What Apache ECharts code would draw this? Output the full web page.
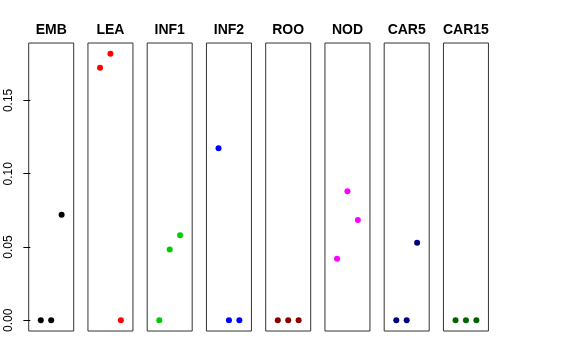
<!DOCTYPE html>
<html><head><meta charset="utf-8">
<script src="https://cdn.jsdelivr.net/npm/echarts@6/dist/echarts.min.js"></script>
<style>html,body{margin:0;padding:0;background:#fff}#c{width:576px;height:360px}</style>
</head><body><div id="c"></div>
<script>
const panels = ['EMB','LEA','INF1','INF2','ROO','NOD','CAR5','CAR15'];
const xPos = [1, 2, 3];
const EMB = [0, 0, 0.072];
const LEA = [0.1723, 0.1819, 0];
const INF1 = [0, 0.0484, 0.058];
const INF2 = [0.1173, 0, 0];
const ROO = [0, 0, 0];
const NOD = [0.042, 0.088, 0.0684];
const CAR5 = [0, 0, 0.0529];
const CAR15 = [0, 0, 0];
const yTicks = [0, 0.05, 0.10, 0.15];
const colors = ['#000000','#FF0000','#00CD00','#0000FF','#8B0000','#FF00FF','#000080','#006400'];

(function () {
const values = [EMB, LEA, INF1, INF2, ROO, NOD, CAR5, CAR15];
const yMax = Math.max(...values.flat());
const yMin = 0;
const pad = (yMax - yMin) * 0.04;

const left0 = 28.7, step = 59.25, w = 45, gTop = 43, h = 288;
const grids = [], xAxes = [], yAxes = [], series = [], graphics = [];
panels.forEach((name, i) => {
  grids.push({left: left0 + step*i, top: gTop, width: w, height: h, show: true,
    borderColor: '#333', borderWidth: 1, backgroundColor: 'transparent'});
  xAxes.push({gridIndex: i, type: 'value', min: -0.16, max: 4.16, show: false});
  yAxes.push({gridIndex: i, type: 'value', min: yMin - pad, max: yMax + pad,
    show: i === 0,
    axisLine: {show: false},
    splitLine: {show: false},
    axisTick: {show: true, length: 7, inside: false, customValues: yTicks, lineStyle: {color: '#000'}},
    axisLabel: {show: true, customValues: yTicks, rotate: 90, margin: 14,
      formatter: v => v.toFixed(2), color: '#000', fontSize: 12, fontFamily: 'Liberation Sans'}
  });
  series.push({type: 'scatter', xAxisIndex: i, yAxisIndex: i, symbolSize: 6,
    itemStyle: {color: colors[i], opacity: 1},
    data: xPos.map((x, k) => [x, values[i][k]])});
  graphics.push({type: 'text', x: left0 + step*i + w/2, y: 30,
    style: {text: name, textAlign: 'center', textVerticalAlign: 'middle',
      font: 'bold 14px "Liberation Sans"', fill: '#000'}});
});

const chart = echarts.init(document.getElementById('c'), null, {renderer: 'canvas'});
chart.setOption({
  animation: false,
  grid: grids, xAxis: xAxes, yAxis: yAxes, series: series, graphic: graphics
});
})();
</script></body></html>
